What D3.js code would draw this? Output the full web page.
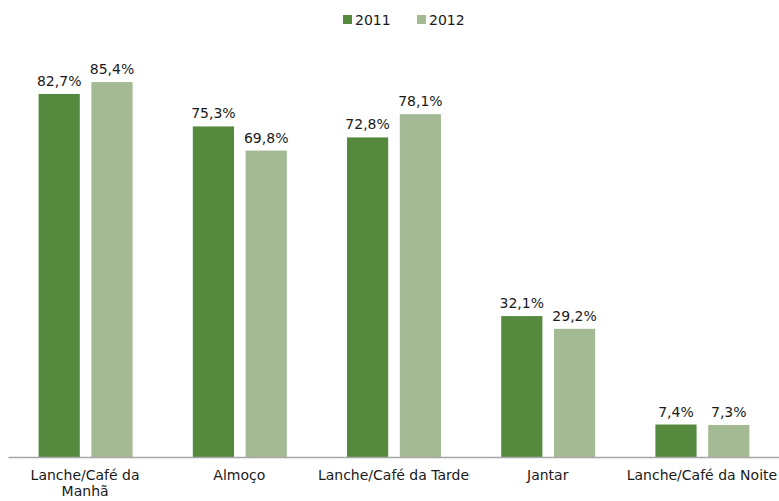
<!DOCTYPE html>
<html><head><meta charset="utf-8">
<script src="https://cdn.jsdelivr.net/npm/d3@7"></script>
<style>body{margin:0;background:#fff;}svg{display:block;font-family:"DejaVu Sans",sans-serif;}</style>
</head><body><svg id="c" width="779" height="501"></svg>
<script>
const categories = ["Lanche/Café da Manhã","Almoço","Lanche/Café da Tarde","Jantar","Lanche/Café da Noite"];
const series = ["2011","2012"];
const values2011 = [82.7,75.3,72.8,32.1,7.4];
const values2012 = [85.4,69.8,78.1,29.2,7.3];
const colors = ["#558a3e","#a4ba94"];

const svg = d3.select("#c");
const x = d3.scaleBand().domain(categories).range([8,779]);
const inner = d3.scaleBand().domain(series).range([0,94]).paddingInner(0.22);
const y = d3.scaleLinear().domain([0,100]).range([457,18]);
const fmt = v => v.toFixed(1).replace(".",",") + "%";
const data = [values2011, values2012];

categories.forEach((c,i)=>{
  const g = svg.append("g").attr("transform",`translate(${x(c)+x.bandwidth()/2-46.5},0)`);
  series.forEach((s,j)=>{
    const v = data[j][i];
    g.append("rect").attr("x",inner(s)).attr("y",y(v)).attr("width",inner.bandwidth()).attr("height",y(0)-y(v)).attr("fill",colors[j]);
    g.append("text").attr("x",inner(s)+inner.bandwidth()/2).attr("y",y(v)-8).attr("text-anchor","middle").attr("font-size",14).attr("fill","#1a1a1a").text(fmt(v));
  });
});

const ax = svg.append("g").attr("transform","translate(0,457)").call(d3.axisBottom(x).tickSize(0).tickPadding(0))
  .attr("font-family","DejaVu Sans, sans-serif");
ax.select(".domain").attr("stroke","#a6a6a6").attr("stroke-width",1.5);
ax.selectAll(".tick text").remove();
ax.selectAll(".tick").each(function(d){
  const t = d3.select(this).append("text").attr("fill","#1a1a1a").attr("font-size",14).attr("text-anchor","middle").attr("y",23);
  const lines = d==="Lanche/Café da Manhã" ? ["Lanche/Café da","Manhã"] : [d];
  lines.forEach((l,k)=>t.append("tspan").attr("x",0).attr("dy",k?16:0).text(l));
});

const leg = svg.append("g");
series.forEach((s,j)=>{
  const lx = 343 + j*74;
  leg.append("rect").attr("x",lx).attr("y",15).attr("width",9).attr("height",9).attr("fill",colors[j]);
  leg.append("text").attr("x",lx+12).attr("y",25).attr("font-size",14).attr("fill","#1a1a1a").text(s);
});
</script></body></html>
